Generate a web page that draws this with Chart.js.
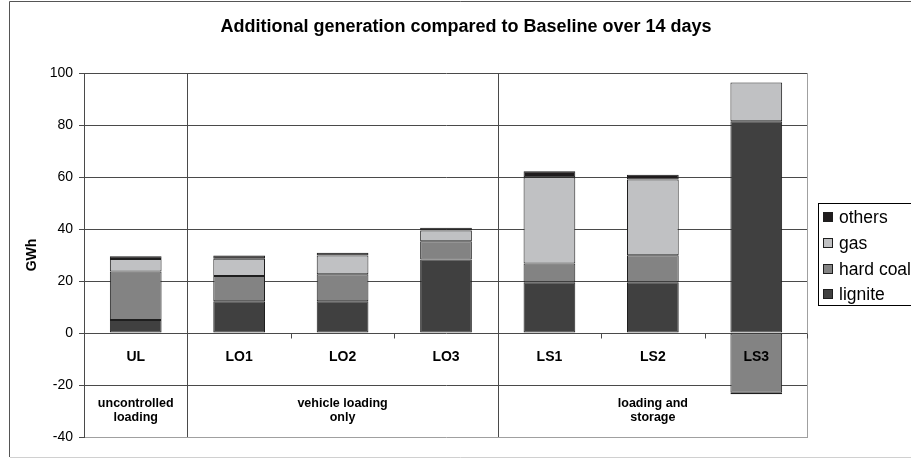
<!DOCTYPE html>
<html><head><meta charset="utf-8">
<script src="https://cdn.jsdelivr.net/npm/chart.js@4.4.0/dist/chart.umd.min.js"></script>
<style>html,body{margin:0;padding:0;background:#fff;} canvas{display:block;}</style>
</head><body>
<canvas id="c" width="911" height="459"></canvas>
<script>
// ---- data ----
const categories = ['UL', 'LO1', 'LO2', 'LO3', 'LS1', 'LS2', 'LS3'];
const groupLabels = [['uncontrolled', 'loading'], ['vehicle loading', 'only'], ['loading and', 'storage']];
const groupSpans = [[0, 0], [1, 3], [4, 6]];
const lignite  = [5.0, 12.2, 12.2, 28.3, 19.5, 19.5, 81.4];
const hardCoal = [18.7, 9.7, 10.4, 7.0, 7.2, 10.4, -23.0];
const gas      = [4.8, 6.7, 7.2, 4.1, 33.2, 29.1, 14.9];
const others   = [1.0, 1.2, 1.1, 1.1, 2.3, 1.9, -0.6];
const yMin = -40, yMax = 100, yStep = 20;
const chartTitle = 'Additional generation compared to Baseline over 14 days';
const yTitle = 'GWh';
const seriesNames = ['lignite', 'hard coal', 'gas', 'others'];
const seriesColors = ['#404040', '#838383', '#c0c1c3', '#1f1c1d'];

const FONT = "'Liberation Sans', Arial, sans-serif";
const EDGE = '#1e1e1e';

const deco = {
  id: 'deco',
  beforeDraw(chart) {
    const ctx = chart.ctx;
    ctx.save();
    ctx.fillStyle = '#fff';
    ctx.fillRect(0, 0, chart.width, chart.height);
    ctx.restore();
  },
  beforeDatasetsDraw(chart) {
    const {ctx, chartArea: a, scales: {x, y}} = chart;
    ctx.save();
    ctx.lineWidth = 1;
    // plot-area border
    ctx.strokeStyle = '#a0a0a0';
    ctx.beginPath();
    ctx.moveTo(a.right - 0.5, a.top); ctx.lineTo(a.right - 0.5, a.bottom);
    ctx.stroke();
    const half = (x.getPixelForValue(1) - x.getPixelForValue(0)) / 2;
    const y0 = Math.round(y.getPixelForValue(0)) + 0.5;
    ctx.strokeStyle = '#4a4a4a';
    for (let i = 0; i < categories.length - 1; i++) {
      const bx = Math.round(x.getPixelForValue(i) + half) + 0.5;
      const isGroupEdge = groupSpans.some(g => g[1] === i);
      ctx.beginPath();
      if (isGroupEdge) { ctx.moveTo(bx, a.top); ctx.lineTo(bx, a.bottom); }
      else { ctx.moveTo(bx, y0); ctx.lineTo(bx, y0 + 5); }
      ctx.stroke();
    }
    ctx.beginPath();
    ctx.moveTo(a.right - 0.5, y0); ctx.lineTo(a.right - 0.5, y0 + 5);
    ctx.stroke();
    ctx.restore();
  },
  afterDraw(chart) {
    const {ctx, chartArea: a, scales: {x, y}} = chart;
    ctx.save();
    // outer frame
    ctx.lineWidth = 1;
    ctx.strokeStyle = '#555';
    ctx.beginPath();
    ctx.moveTo(9.5, 457); ctx.lineTo(9.5, 1.5); ctx.lineTo(911, 1.5);
    ctx.stroke();
    ctx.strokeStyle = '#d0d0d0';
    ctx.beginPath();
    ctx.moveTo(10, 457.5); ctx.lineTo(911, 457.5);
    ctx.stroke();
    // title
    ctx.fillStyle = '#000';
    ctx.textAlign = 'center';
    ctx.textBaseline = 'middle';
    ctx.font = `bold 18px ${FONT}`;
    ctx.fillText(chartTitle, 466, 27);
    // category labels
    ctx.textBaseline = 'alphabetic';
    ctx.font = `bold 14px ${FONT}`;
    categories.forEach((c, i) => ctx.fillText(c, x.getPixelForValue(i), 361));
    // group labels
    ctx.font = `bold 12.5px ${FONT}`;
    groupSpans.forEach((g, k) => {
      const cx = (x.getPixelForValue(g[0]) + x.getPixelForValue(g[1])) / 2;
      groupLabels[k].forEach((t, j) => ctx.fillText(t, cx, 407 + j * 13.5));
    });
    // legend
    ctx.strokeStyle = '#000';
    ctx.strokeRect(818.5, 203.5, 140, 102);
    ctx.textAlign = 'left';
    ctx.textBaseline = 'middle';
    ctx.font = `17.5px ${FONT}`;
    const rows = [217, 243, 269, 294];
    for (let r = 0; r < 4; r++) {
      const si = 3 - r;
      ctx.fillStyle = seriesColors[si];
      ctx.fillRect(823, rows[r] - 5, 10, 10);
      ctx.strokeStyle = EDGE;
      ctx.strokeRect(823.5, rows[r] - 4.5, 9, 9);
      ctx.fillStyle = '#000';
      ctx.fillText(seriesNames[si], 839, rows[r] + 1);
    }
    ctx.restore();
  }
};

const seriesData = [lignite, hardCoal, gas, others];
new Chart(document.getElementById('c'), {
  type: 'bar',
  data: {
    labels: categories,
    datasets: seriesNames.map((n, i) => ({
      label: n,
      data: seriesData[i],
      backgroundColor: seriesColors[i],
      borderColor: EDGE,
      borderWidth: 1,
      borderSkipped: false,
      barPercentage: 0.5,
      categoryPercentage: 1.0
    }))
  },
  options: {
    responsive: false,
    animation: false,
    layout: {padding: {left: 0, right: 103, top: 73, bottom: 22}},
    plugins: {legend: {display: false}, title: {display: false}, tooltip: {enabled: false}},
    scales: {
      x: {type: 'category', stacked: true, display: false},
      y: {
        stacked: true,
        min: yMin, max: yMax,
        afterFit(scale) { scale.width = 84; },
        ticks: {stepSize: yStep, padding: 6, color: '#000', font: {family: FONT, size: 14}},
        grid: {
          color: ctx => (ctx.tick && ctx.tick.value === yMin) ? '#a0a0a0' : '#4a4a4a',
          tickColor: '#4a4a4a',
          tickLength: 5,
          lineWidth: 1
        },
        border: {display: true, color: '#4a4a4a'},
        title: {display: true, text: yTitle, color: '#000', font: {family: FONT, size: 14, weight: 'bold'}, padding: {top: 23.6, bottom: 0}}
      }
    }
  },
  plugins: [deco]
});
</script>
</body></html>
